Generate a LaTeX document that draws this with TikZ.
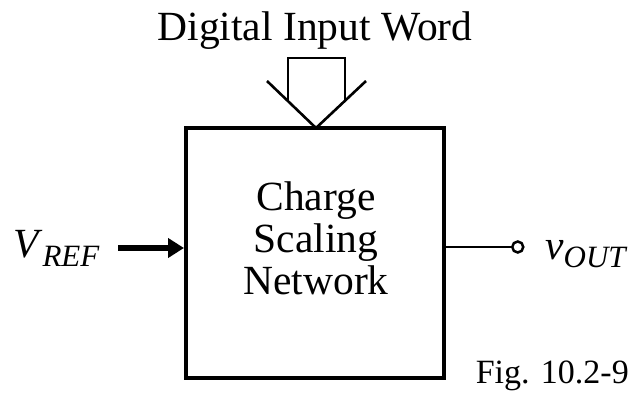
\documentclass[tikz,border=0pt]{standalone}
\usepackage{fontspec}
\setmainfont{Liberation Serif}
\usetikzlibrary{arrows.meta}
\tikzset{
  lbl/.style={inner sep=0pt, anchor=base, font=\fontsize{41.5}{44}\selectfont},
  blk/.style={draw, line width=4pt, minimum width=258pt, minimum height=249pt, inner sep=0pt},
  bus/.style={line width=2.6pt, line join=miter},
}
\begin{document}
\begin{tikzpicture}[x=1pt,y=-1pt]
\useasboundingbox (0,0) rectangle (634,395);
\node[blk] (box) at (315,253) {};
\node[lbl] (t1) at (316,211) {Charge};
\node[lbl] (t2) at (316,252.5) {Scaling};
\node[lbl] (t3) at (316,294) {Network};
\node[lbl] (diw) at (315,41) {Digital Input Word};
\coordinate (tip) at (316,128);
\coordinate (dl) at (267,81);
\coordinate (dr) at (366,81);
\draw[bus] (dl) -- (tip) -- (dr);
\draw[bus] (288,102) -- (288,58) -- (345,58) -- (345,101);
\node[lbl, anchor=base west] (vref) at (13,258) {\textit{V}\raisebox{-9pt}{\fontsize{31}{34}\selectfont\textit{REF}}};
\coordinate (vin) at (118,248);
\draw[line width=5.5pt, -{Triangle[length=16pt,width=19pt]}] (vin) -- (box.west|-vin);
\coordinate (vo) at (511,247);
\draw[line width=2.5pt] (box.east|-vo) -- (vo);
\node[draw, circle, line width=2.5pt, minimum size=11pt, inner sep=0pt, anchor=west] (oc) at (vo) {};
\node[lbl, anchor=base west] (vout) at (545,259) {\textit{v}\raisebox{-9pt}{\fontsize{31}{34}\selectfont\textit{OUT}}};
\node[inner sep=0pt, anchor=base east, font=\fontsize{34}{36}\selectfont] (fig) at (629,383) {Fig. 10.2-9};
\end{tikzpicture}
\end{document}
